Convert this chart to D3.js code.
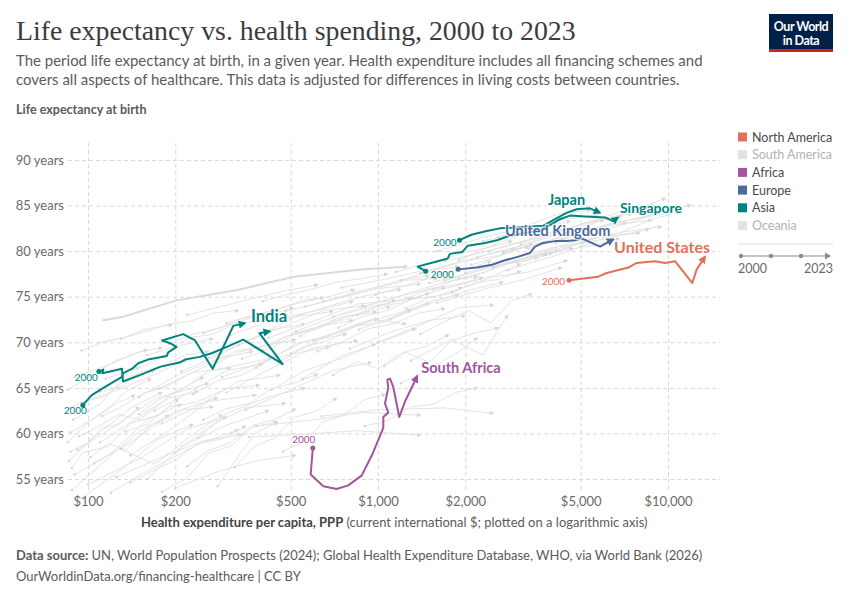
<!DOCTYPE html>
<html lang="en">
<head>
<meta charset="UTF-8">
<script src="https://d3js.org/d3.v7.min.js"></script>
<title>Life expectancy vs. health spending, 2000 to 2023</title>
<style>
  body { margin: 0; background: #fff; }
  svg { font-family: Lato, "Noto Sans", sans-serif; }
</style>
</head>
<body>
<svg id="chart" width="850" height="600"></svg>
<script>
// [health spending per capita (PPP $), life expectancy], first point = 2000, last = 2023
const india = [[96,63.1],[103,64.2],[113,65.0],[131,66.2],[132,66.6],[142,67.1],[149,67.7],[161,68.1],[187,68.5],[189,68.9],[202,69.5],[192,69.9],[180,70.2],[213,70.9],[234,70.2],[269,67.1],[297,69.9],[317,71.8],[348,72.1]];
const indonesia = [[109,66.8],[113,67.0],[112,66.6],[131,67.1],[132,65.7],[151,66.4],[177,67.3],[208,67.8],[216,68.1],[243,68.4],[267,68.8],[301,69.5],[343,70.3],[469,67.6],[390,71.0],[424,71.2]];
const japan = [[1910,81.2],[2100,81.8],[2370,82.2],[2630,82.5],[3020,82.6],[3720,82.8],[4020,83.4],[4470,84.2],[4840,84.6],[5380,84.7],[5830,84.2]];
const singapore = [[1460,77.8],[1370,78.3],[1570,78.8],[1740,79.2],[1770,79.7],[1950,79.9],[2040,80.6],[2340,80.9],[2570,81.2],[2850,81.7],[3210,82.0],[3620,82.3],[3980,83.0],[4240,83.5],[4590,83.9],[5170,83.8],[6060,83.7],[6460,83.3],[6720,83.7]];
const unitedKingdom = [[1890,78.0],[2190,78.2],[2470,78.5],[2740,79.0],[3050,79.4],[3340,79.8],[3480,80.5],[3710,80.9],[4080,81.1],[4470,81.1],[4780,81.2],[5040,81.4],[5830,80.5],[6480,81.3]];
const unitedStates = [[4560,76.8],[5750,77.2],[6150,77.6],[7300,78.2],[7800,78.7],[8450,78.8],[9020,78.9],[9770,78.7],[10570,78.9],[12130,76.5],[12560,78.0],[13420,79.4]];
const southAfrica = [[596,58.4],[586,55.5],[648,54.2],[720,53.9],[790,54.3],[879,55.4],[959,57.8],[1043,60.6],[1043,61.8],[1085,62.3],[1057,63.3],[1085,65.0],[1077,65.9],[1100,66.0],[1129,65.1],[1184,61.8],[1239,63.5],[1366,66.3]];

// the one slightly heavier grey trajectory
const greyThick = [[112,72.4],[132,72.8],[202,74.6],[334,75.8],[513,77.2],[891,78.0],[1259,78.3]];

// all other countries (grey, not selected)
const greyLines = [
  [[88,53.8],[110,56.5],[150,60.2],[190,62.0]],
  [[90,55.5],[120,57.8],[160,61.5],[210,63.2]],
  [[95,52.9],[130,56.0],[175,59.4],[230,61.0]],
  [[86,57.0],[105,59.6],[140,62.8],[180,64.5]],
  [[92,58.2],[125,60.9],[170,63.8],[260,65.5]],
  [[100,54.4],[150,57.2],[220,60.5],[300,61.8]],
  [[87,60.1],[115,62.4],[135,64.6],[165,66.0]],
  [[105,56.7],[140,59.0],[200,62.4],[280,63.9]],
  [[120,53.5],[160,55.9],[240,58.8],[330,60.4]],
  [[89,61.5],[110,63.2],[130,65.8],[150,67.3]],
  [[140,57.6],[190,60.3],[260,63.5],[380,64.2]],
  [[110,59.0],[150,61.8],[200,64.5],[250,66.2]],
  [[160,55.0],[210,58.6],[300,60.9],[420,62.5]],
  [[95,63.4],[130,64.9],[170,66.5],[220,68.1]],
  [[180,61.1],[240,63.0],[330,65.7],[460,66.4]],
  [[130,58.3],[170,56.6],[230,59.9],[290,62.1]],
  [[200,57.9],[260,60.7],[350,62.8],[480,63.3]],
  [[85,64.8],[100,66.1],[125,68.0],[160,69.2]],
  [[240,59.5],[300,62.2],[420,64.0],[560,65.0]],
  [[150,64.0],[200,66.3],[280,68.2],[370,69.0]],
  [[280,54.2],[330,57.5],[380,60.1],[450,61.2]],
  [[115,66.0],[160,67.5],[210,69.7],[270,70.4]],
  [[210,66.8],[300,69.0],[420,71.3],[560,72.0]],
  [[260,68.3],[380,70.6],[520,72.8],[700,73.4]],
  [[300,64.5],[420,67.0],[600,69.4],[850,70.2]],
  [[330,69.7],[460,71.6],[650,73.5],[900,74.0]],
  [[380,67.2],[520,69.8],[720,71.0],[1000,72.6]],
  [[420,70.5],[600,72.3],[850,74.2],[1150,74.6]],
  [[250,71.0],[360,72.6],[500,74.1],[650,74.9]],
  [[500,68.8],[700,70.9],[950,72.5],[1250,72.0]],
  [[450,72.2],[650,73.8],[900,75.1],[1200,75.8]],
  [[550,66.0],[750,68.5],[1000,69.9],[1350,71.5]],
  [[600,70.2],[850,72.0],[1150,73.1],[1500,74.3]],
  [[700,72.8],[950,74.2],[1300,75.4],[1700,76.0]],
  [[350,62.6],[500,64.8],[700,66.9],[950,67.8]],
  [[800,69.3],[1100,71.1],[1500,72.4],[2000,72.9]],
  [[900,73.9],[1250,75.3],[1700,76.6],[2200,77.2]],
  [[480,73.4],[700,74.7],[1000,75.9],[1400,76.4]],
  [[650,74.5],[900,75.6],[1250,76.8],[1600,77.0]],
  [[1000,70.0],[1400,71.9],[1900,73.8],[2500,74.1]],
  [[1100,72.5],[1500,74.2],[2000,75.6],[2700,76.6]],
  [[380,60.8],[600,61.5],[900,62.3],[1400,62.0]],
  [[640,61.9],[1000,62.6],[1700,62.8],[2500,62.2]],
  [[360,59.6],[550,59.9],[850,60.3],[1400,59.8]],
  [[1200,65.5],[1500,67.0],[1900,69.0],[2200,70.5]],
  [[1300,68.0],[1800,70.3],[2300,68.6],[2800,73.0]],
  [[220,73.0],[330,74.4],[470,75.6],[620,76.3]],
  [[750,76.0],[1050,76.9],[1400,77.8],[1900,78.3]],
  [[1500,76.5],[2200,77.8],[3000,79.0],[4000,79.8]],
  [[1700,78.9],[2400,80.0],[3300,81.2],[4500,82.0]],
  [[2000,77.6],[2800,79.0],[3900,80.3],[5200,81.0]],
  [[2200,79.3],[3100,80.6],[4300,81.9],[6000,82.6]],
  [[2500,78.2],[3500,79.7],[4800,81.1],[6500,81.8]],
  [[2700,79.8],[3800,81.1],[5200,82.4],[7200,83.1]],
  [[3000,78.9],[4200,80.3],[5800,81.5],[8000,82.0]],
  [[3300,80.3],[4600,81.6],[6300,82.8],[8800,83.4]],
  [[1900,79.0],[2600,80.9],[3500,82.4],[4600,83.3]],
  [[3800,79.6],[5300,81.2],[7000,82.1],[9500,82.7]],
  [[4100,80.9],[5600,82.6],[7600,83.5],[10200,84.2]],
  [[2300,81.1],[3200,82.2],[4400,83.5],[5700,84.0]],
  [[1600,74.3],[2300,75.8],[3200,76.9],[4300,78.2]],
  [[1400,77.6],[1900,78.8],[2600,79.5],[3400,80.8]],
  [[5000,80.5],[6800,82.0],[8800,83.5],[11000,84.3]],
  [[2900,80.2],[4000,81.9],[5300,83.2],[6900,83.8]],
  [[1800,75.5],[2500,77.2],[3300,77.7],[4500,79.0]],
  [[3600,81.7],[5000,82.9],[6800,84.3],[9000,85.0]],
  [[1200,76.8],[1700,78.3],[2400,79.7],[3300,80.5]],
  [[2600,81.5],[3400,83.0],[4200,84.1],[5400,84.5]],
  [[4500,82.0],[6000,83.4],[7800,84.6],[9800,85.8]],
  [[1300,74.8],[1800,76.1],[2500,77.3],[3100,78.6]],
  [[430,64.8],[560,66.9],[760,68.3],[980,69.8]],
  [[520,71.2],[720,72.9],[980,74.0],[1300,74.8]],
  [[290,66.2],[410,68.0],[560,70.1],[780,70.9]],
  [[860,71.4],[1150,72.9],[1550,74.6],[1900,75.2]],
  [[170,62.5],[230,64.7],[300,66.9],[400,67.6]],
  [[85,59.0],[100,61.2],[120,63.0],[145,64.2]],
  [[125,55.2],[180,57.4],[250,59.2],[340,59.9]],
  [[200,54.0],[280,55.8],[380,57.0],[520,57.6]],
  [[310,70.8],[440,72.5],[600,73.4],[820,74.5]],
  [[1600,80.0],[2300,81.5],[3100,82.5],[4100,83.0]],
  [[88,56.2],[96,57.9],[118,58.6],[140,61.1],[175,62.0],[205,63.8]],
  [[93,59.7],[104,60.4],[128,62.1],[150,61.5],[190,63.9],[240,64.6]],
  [[86,62.8],[98,63.5],[115,64.1],[140,66.3],[170,66.9]],
  [[102,57.4],[118,58.9],[135,58.2],[165,60.9],[215,62.6],[270,62.9]],
  [[112,61.9],[128,62.8],[155,64.4],[185,65.1],[230,66.7],[310,67.2]],
  [[135,60.2],[160,61.0],[190,62.9],[235,63.4],[300,64.9],[390,65.3]],
  [[90,66.2],[106,67.0],[124,67.8],[148,68.9],[180,69.4]],
  [[150,62.1],[175,63.7],[215,65.0],[260,66.8],[330,67.5],[430,68.3]],
  [[175,64.9],[210,66.1],[255,67.4],[320,69.0],[400,69.6],[520,70.3]],
  [[230,64.3],[280,65.8],[340,66.4],[420,68.1],[540,68.9],[680,69.5]],
  [[270,67.5],[330,68.9],[410,69.6],[510,71.0],[640,71.8],[820,72.4]],
  [[340,68.2],[420,69.2],[510,70.8],[620,71.5],[780,72.9],[990,73.3]],
  [[400,69.1],[480,70.6],[590,71.4],[720,72.6],[880,73.2],[1100,73.9]],
  [[460,67.9],[560,69.5],[690,70.3],[840,71.8],[1050,72.2],[1300,73.6]],
  [[540,70.7],[650,71.9],[800,72.7],[980,73.9],[1200,74.3],[1500,75.4]],
  [[620,69.0],[760,70.1],[930,71.5],[1120,72.0],[1380,73.2],[1700,73.7]],
  [[730,71.6],[880,72.8],[1080,73.5],[1300,74.7],[1600,75.1],[1950,76.0]],
  [[850,73.0],[1020,74.1],[1250,74.8],[1500,75.9],[1850,76.3],[2300,77.1]],
  [[560,73.9],[680,74.6],[830,75.5],[1000,76.1],[1230,76.9],[1500,77.3]],
  [[400,74.5],[480,75.2],[590,75.8],[720,76.6],[880,77.0],[1080,77.5]],
  [[300,72.1],[370,73.0],[450,73.6],[550,74.6],[680,75.0],[830,75.8]],
  [[190,69.8],[230,70.9],[280,71.5],[340,72.6],[420,73.0],[510,73.8]],
  [[130,70.4],[155,71.1],[185,71.9],[225,72.3],[270,73.2],[330,73.5]],
  [[95,69.1],[112,70.0],[135,70.6],[160,71.5],[195,71.9]],
  [[1050,67.4],[1250,68.9],[1500,67.8],[1800,70.2],[2150,71.0],[2600,71.6]],
  [[1400,70.9],[1700,72.3],[2050,73.5],[2450,72.1],[2900,74.6],[3400,75.3]],
  [[1250,73.7],[1500,74.9],[1800,75.4],[2150,76.5],[2600,76.9],[3100,77.8]],
  [[1700,76.8],[2050,77.5],[2450,78.3],[2950,78.9],[3500,79.5],[4200,80.1]],
  [[2100,78.5],[2550,79.3],[3050,80.2],[3650,80.9],[4350,81.6],[5200,82.1]],
  [[2400,80.0],[2900,80.8],[3500,81.5],[4200,82.3],[5000,82.8],[6000,83.4]],
  [[3100,80.8],[3700,81.8],[4400,82.4],[5300,83.1],[6300,83.7],[7500,84.1]],
  [[3500,79.2],[4200,80.0],[5000,80.9],[6000,81.3],[7200,81.9],[8600,82.4]],
  [[4300,81.3],[5100,82.1],[6100,82.9],[7300,83.4],[8700,84.0],[10400,84.6]],
  [[2800,77.9],[3400,78.8],[4000,79.4],[4800,80.3],[5700,80.7],[6800,81.4]],
  [[1900,77.0],[2300,77.6],[2800,78.6],[3300,79.0],[3900,79.9],[4700,80.3]],
  [[5500,81.8],[6500,82.6],[7700,83.3],[9000,84.1],[10500,84.5],[12000,85.1]],
  [[1550,75.8],[1850,76.9],[2200,77.4],[2650,78.5],[3150,78.9],[3800,79.7]],
  [[980,75.2],[1180,76.0],[1420,76.8],[1700,77.6],[2050,78.1],[2450,78.9]],
  [[1150,77.7],[1400,78.5],[1680,79.0],[2000,79.9],[2400,80.4],[2900,81.1]],
  [[700,66.4],[850,67.9],[1000,67.1],[1200,68.8],[1450,69.5],[1750,70.8]],
  [[320,56.3],[380,58.7],[440,59.5],[520,61.8],[610,62.4],[720,63.9]],
  [[180,53.6],[220,55.1],[260,57.8],[310,58.6],[370,60.7],[450,61.3]],
  [[470,58.0],[560,59.2],[650,61.3],[760,62.0],[900,63.7],[1060,64.3]],
  [[250,61.5],[300,62.7],[360,63.3],[430,64.9],[520,65.6],[620,66.5]],
  [[110,64.6],[130,65.1],[150,66.7],[180,67.4],[215,68.6],[260,69.0]],
  [[87,58.0],[99,58.9],[112,60.6],[128,61.0],[150,62.9]],
  [[140,54.6],[165,55.8],[200,57.1],[240,58.9],[290,59.4],[350,60.8]],
  [[220,56.4],[260,58.1],[310,59.0],[370,60.9],[440,61.5],[520,62.7]],
  [[900,60.8],[1080,61.4],[1300,62.9],[1550,63.2],[1850,64.5],[2200,65.0]],
  [[160,68.6],[190,69.3],[225,70.5],[270,70.9],[320,72.0],[385,72.3]]
];

const legendNames = ["North America", "South America", "Africa", "Europe", "Asia", "Oceania"];
const legendOn = [true, false, true, true, true, false];
const yTicks = [55, 60, 65, 70, 75, 80, 85, 90];
const xTicks = [100, 200, 500, 1000, 2000, 5000, 10000];
const timeLabels = ["2000", "2023"];

const colors = {
  "North America": "#e56e5a", "South America": "#e2e2e2", "Africa": "#a2559c",
  "Europe": "#4c6a9c", "Asia": "#00847e", "Oceania": "#e2e2e2"
};
const grey = "#e0e0e0";

// highlighted series; label offsets are relative to the last point
const series = [
  {name: "Indonesia", pts: indonesia, region: "Asia", showName: false, y0: {dx: -1, dy: 10, anchor: "end"}},
  {name: "India", pts: india, region: "Asia", size: 16.5, lab: {dx: 6, dy: -1, anchor: "start"}, y0: {dx: 4, dy: 9, anchor: "end"}},
  {name: "South Africa", pts: southAfrica, region: "Africa", size: 14.5, lab: {dx: 4, dy: -3, anchor: "start"}, y0: {dx: -9, dy: -5, anchor: "middle"}},
  {name: "United Kingdom", pts: unitedKingdom, region: "Europe", size: 14.5, lab: {dx: -3, dy: -3, anchor: "end"}, y0: null},
  {name: "Singapore", pts: singapore, region: "Asia", size: 14, lab: {dx: 2, dy: -4, anchor: "start"}, y0: {dx: 5, dy: 7, anchor: "start"}},
  {name: "Japan", pts: japan, region: "Asia", size: 14.5, lab: {dx: -52, dy: -8, anchor: "start"}, y0: {dx: -3, dy: 6, anchor: "end"}},
  {name: "United States", pts: unitedStates, region: "North America", size: 16, lab: {dx: 5, dy: -4, anchor: "end"}, y0: {dx: -4, dy: 5, anchor: "end"}}
];

const svg = d3.select("#chart");
const x = d3.scaleLog().domain([100, 10000]).range([88, 668]);
const y = d3.scaleLinear().domain([55, 90]).range([479, 160]);
const plotL = 68, plotR = 720, plotT = 143, plotB = 490;

// fit a text to a target width (fonts differ from the original)
function fitWidth(sel, target) {
  const w = sel.node().getComputedTextLength();
  const fs = parseFloat(sel.attr("font-size"));
  sel.attr("font-size", (fs * target / w).toFixed(2));
  return fs * target / w;
}

// ---- header
const title = svg.append("text").attr("x", 16).attr("y", 40)
  .attr("font-family", "'Liberation Serif', 'DejaVu Serif', serif")
  .attr("font-size", 27).attr("fill", "#3c3c3c")
  .text("Life expectancy vs. health spending, 2000 to 2023");
fitWidth(title, 560);

const sub1 = svg.append("text").attr("x", 16).attr("y", 66).attr("font-size", 15).attr("fill", "#5b5b5b")
  .text("The period life expectancy at birth, in a given year. Health expenditure includes all financing schemes and");
const subSize = fitWidth(sub1, 687);
svg.append("text").attr("x", 16).attr("y", 85).attr("font-size", subSize).attr("fill", "#5b5b5b")
  .text("covers all aspects of healthcare. This data is adjusted for differences in living costs between countries.");

svg.append("text").attr("x", 16).attr("y", 114).attr("font-size", 12.5).attr("font-weight", 700)
  .attr("fill", "#5b5b5b").text("Life expectancy at birth");

// logo
const logo = svg.append("g");
logo.append("rect").attr("x", 769).attr("y", 14).attr("width", 64).attr("height", 38).attr("fill", "#002147");
logo.append("rect").attr("x", 769).attr("y", 49).attr("width", 64).attr("height", 3).attr("fill", "#ce261e");
logo.append("text").attr("x", 801).attr("y", 31).attr("text-anchor", "middle").attr("fill", "#fff")
  .attr("font-size", 12.5).attr("font-weight", 700).attr("letter-spacing", -0.5).text("Our World");
logo.append("text").attr("x", 801).attr("y", 45).attr("text-anchor", "middle").attr("fill", "#fff")
  .attr("font-size", 12.5).attr("font-weight", 700).attr("letter-spacing", -0.5).text("in Data");

// ---- axes and grid
const yAxis = d3.axisLeft(y).tickValues(yTicks).tickFormat(d => d + " years")
  .tickSize(-(plotR - plotL)).tickPadding(4);
const yG = svg.append("g").attr("transform", `translate(${plotL},0)`).call(yAxis);

const xAxis = d3.axisBottom(x).tickValues(xTicks).tickFormat(d => "$" + d3.format(",")(d))
  .tickSize(-(plotB - plotT)).tickPadding(7);
const xG = svg.append("g").attr("transform", `translate(0,${plotB})`).call(xAxis);

[yG, xG].forEach(g => {
  g.select(".domain").remove();
  g.selectAll(".tick line").attr("stroke", "#dadada").attr("stroke-dasharray", "4,3");
  g.selectAll(".tick text").attr("font-size", 13).attr("fill", "#6a6a6a").attr("font-family", "Lato, sans-serif");
});

const axTitle = svg.append("text").attr("x", 141).attr("y", 527).attr("font-size", 13).attr("fill", "#5b5b5b");
axTitle.append("tspan").attr("font-weight", 700).attr("fill", "#444").text("Health expenditure per capita, PPP");
axTitle.append("tspan").text(" (current international $; plotted on a logarithmic axis)");
fitWidth(axTitle, 507);

// ---- markers
const defs = svg.append("defs");
function marker(id, color, size) {
  defs.append("marker").attr("id", id).attr("viewBox", "0 0 10 10")
    .attr("refX", 8).attr("refY", 5).attr("markerWidth", size).attr("markerHeight", size)
    .attr("markerUnits", "userSpaceOnUse").attr("orient", "auto")
    .append("path").attr("d", "M0,0L10,5L0,10Z").attr("fill", color);
}
marker("arrow-grey", "#d6d6d6", 4.5);
Object.keys(colors).forEach((k, i) => marker("arrow-" + i, colors[k], 8));

const line = d3.line().x(d => x(d[0])).y(d => y(d[1]));

// ---- grey lines
const greyG = svg.append("g");
greyG.selectAll("path.grey").data(greyLines).join("path")
  .attr("class", "grey").attr("d", line).attr("fill", "none")
  .attr("stroke", grey).attr("stroke-width", 0.9).attr("marker-end", "url(#arrow-grey)");
greyG.selectAll("circle").data(greyLines).join("circle")
  .attr("cx", d => x(d[0][0])).attr("cy", d => y(d[0][1])).attr("r", 1.2).attr("fill", "#d6d6d6");
greyG.append("path").datum(greyThick).attr("d", line).attr("fill", "none")
  .attr("stroke", "#dadada").attr("stroke-width", 2).attr("marker-end", "url(#arrow-grey)");

// ---- highlighted lines
const regionIdx = r => legendNames.indexOf(r);
const hiG = svg.append("g");
series.forEach(s => {
  const c = colors[s.region];
  hiG.append("path").datum(s.pts).attr("d", line).attr("fill", "none")
    .attr("stroke", c).attr("stroke-width", 2).attr("stroke-linejoin", "round")
    .attr("marker-end", `url(#arrow-${regionIdx(s.region)})`);
  const p0 = s.pts[0];
  hiG.append("circle").attr("cx", x(p0[0])).attr("cy", y(p0[1])).attr("r", 2.5).attr("fill", c);
  if (s.y0) {
    hiG.append("text").attr("x", x(p0[0]) + s.y0.dx).attr("y", y(p0[1]) + s.y0.dy)
      .attr("text-anchor", s.y0.anchor).attr("font-size", 10).attr("fill", c).text("2000");
  }
});
series.filter(s => s.showName !== false).forEach(s => {
  const pN = s.pts[s.pts.length - 1];
  hiG.append("text").attr("x", x(pN[0]) + s.lab.dx).attr("y", y(pN[1]) + s.lab.dy)
    .attr("text-anchor", s.lab.anchor).attr("font-size", s.size).attr("font-weight", 700)
    .attr("fill", colors[s.region]).attr("stroke", "#fff").attr("stroke-width", 2.5)
    .attr("stroke-opacity", 0.7).attr("paint-order", "stroke").text(s.name);
});

// ---- legend
const leg = svg.append("g").attr("transform", "translate(738,0)");
legendNames.forEach((n, i) => {
  const yy = 137 + i * 17.7;
  leg.append("rect").attr("x", 0).attr("y", yy - 4.5).attr("width", 9).attr("height", 9).attr("fill", colors[n]);
  leg.append("text").attr("x", 14).attr("y", yy + 4.5).attr("font-size", 12.5)
    .attr("fill", legendOn[i] ? "#4a4a4a" : "#b3b3b3").text(n);
});
leg.append("line").attr("x1", 0).attr("x2", 95).attr("y1", 244).attr("y2", 244).attr("stroke", "#e0e0e0");
const tl = d3.scaleLinear().domain([0, 3]).range([3, 93]);
leg.append("line").attr("x1", tl(0)).attr("x2", tl(3) - 4).attr("y1", 256).attr("y2", 256)
  .attr("stroke", "#8c8c8c").attr("stroke-width", 1.2);
leg.selectAll("circle.tl").data([0, 1, 2]).join("circle").attr("class", "tl")
  .attr("cx", d => tl(d)).attr("cy", 256).attr("r", 2.2).attr("fill", "#8c8c8c");
leg.append("path").attr("d", `M${tl(3) - 6},252.5L${tl(3)},256L${tl(3) - 6},259.5Z`).attr("fill", "#8c8c8c");
leg.append("text").attr("x", 0).attr("y", 273).attr("font-size", 12.5).attr("fill", "#6a6a6a").text(timeLabels[0]);
leg.append("text").attr("x", 95).attr("y", 273).attr("text-anchor", "end").attr("font-size", 12.5)
  .attr("fill", "#6a6a6a").text(timeLabels[1]);

// ---- footer
const f2 = svg.append("text").attr("x", 16).attr("y", 581).attr("font-size", 13).attr("fill", "#5b5b5b")
  .text("OurWorldinData.org/financing-healthcare | CC BY");
const fSize = fitWidth(f2, 285);
const f1 = svg.append("text").attr("x", 16).attr("y", 560).attr("font-size", fSize).attr("fill", "#5b5b5b");
f1.append("tspan").attr("font-weight", 700).text("Data source: ");
f1.append("tspan").text("UN, World Population Prospects (2024); Global Health Expenditure Database, WHO, via World Bank (2026)");
</script>
</body>
</html>
